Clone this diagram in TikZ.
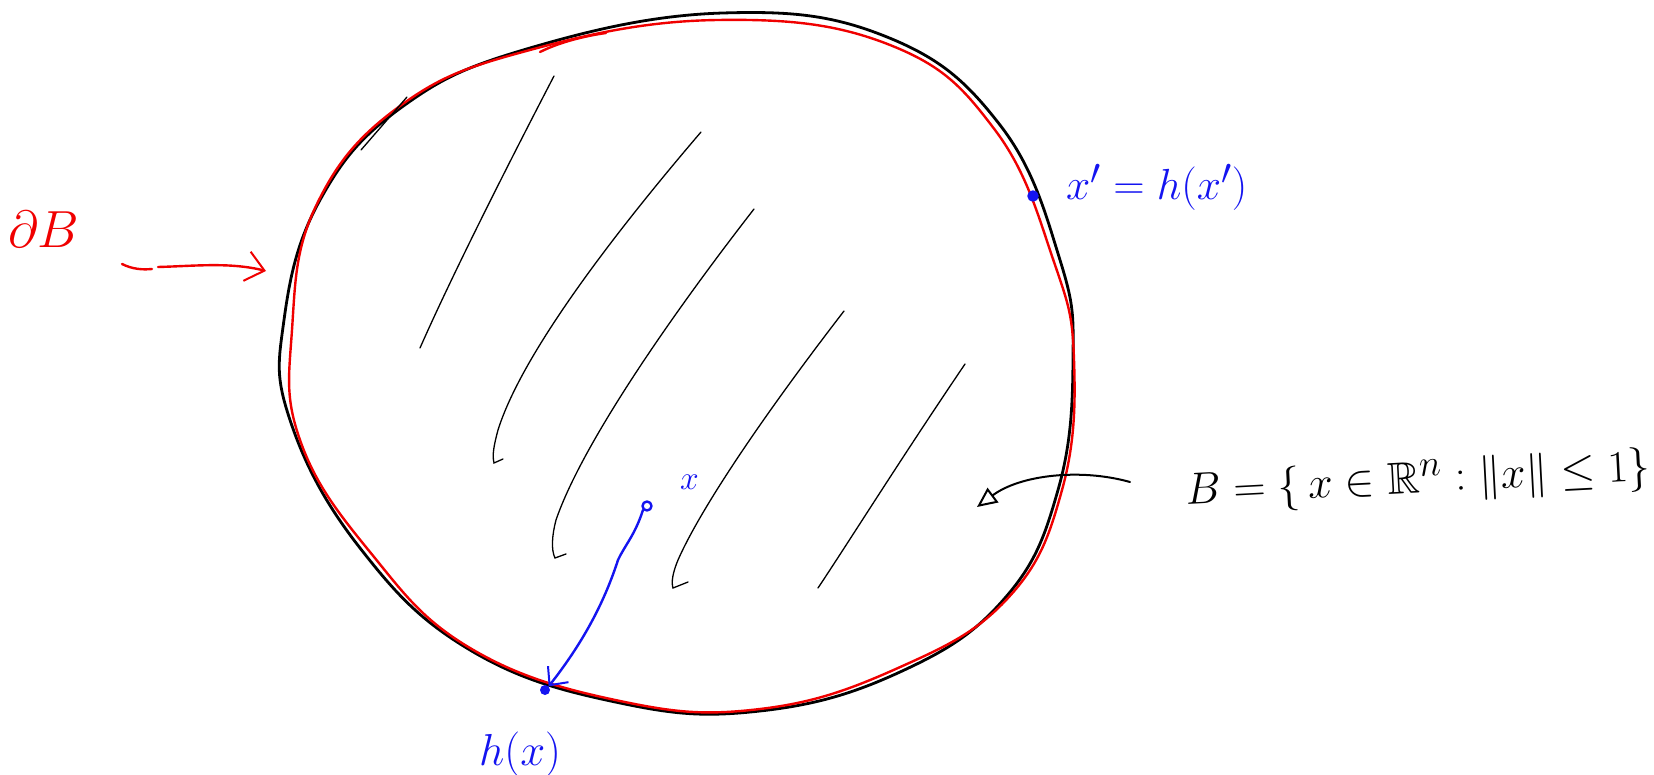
\documentclass[tikz,border=0pt]{standalone}
\usepackage{amssymb}
\usetikzlibrary{arrows.meta}
\definecolor{inkblue}{RGB}{20,20,240}
\definecolor{inkred}{RGB}{240,0,0}
\newcommand{\bigtxt}[2]{\scalebox{#1}{\Huge #2}}
\begin{document}
\begin{tikzpicture}[x=1pt,y=-1pt,
  ballline/.style={black,line width=2.8pt,line cap=round,line join=round},
  bndline/.style={inkred,line width=2.4pt,line cap=round,line join=round},
  hatch/.style={black,line width=1.3pt,line cap=round},
  bluepen/.style={inkblue,line width=2.4pt,line cap=round,line join=round},
  lbl/.style={inner sep=0pt}]
\useasboundingbox (0,0) rectangle (1654,775);
% ball B (black)
\draw[ballline] plot[smooth cycle,tension=0.7] coordinates {
 (723,13) (887,37) (1000,125) (1060,260) (1073,360) (1058,490) (1005,598)
 (900,672) (760,711) (620,703) (470,650) (360,548) (290,420) (284,320)
 (320,200) (402,107) (530,48)};
% boundary (red)
\draw[bndline] plot[smooth cycle,tension=0.7] coordinates {
 (718,20) (890,45) (995,130) (1054,262) (1074,360) (1062,490) (1008,598)
 (898,668) (760,709) (620,701) (470,648) (370,552) (300,440) (292,330)
 (316,206) (400,106) (530,50)};
\draw[bndline] (540,52) .. controls (560,42) and (585,36) .. (606,33);
% hatching
\draw[hatch] (407,97) -- (361,150);
\draw[hatch] (554,76) .. controls (500,180) and (450,280) .. (420,348);
\draw[hatch] (701,132) .. controls (600,250) and (520,360) .. (498,430) .. controls (494,445) and (492,455) .. (494,463) -- (503,459);
\draw[hatch] (754,209) .. controls (660,330) and (580,450) .. (556,520) .. controls (552,535) and (551,550) .. (555,558) -- (566,554);
\draw[hatch] (844,311) .. controls (760,420) and (700,510) .. (678,560) .. controls (673,572) and (671,582) .. (673,588) -- (688,582);
\draw[hatch] (965,364) .. controls (900,460) and (850,540) .. (818,588);
% labels
\node[lbl,text=inkred,anchor=base west] (dB) at (8,248) {\bigtxt{2.1}{$\partial B$}};
\draw[bndline] (122,264) .. controls (132,269) and (142,270) .. (152,269);
\coordinate (dBs) at (158,267);
\coordinate (dBe) at (266,271);
\draw[bndline,-{Straight Barb[length=18pt,width=30pt,line width=2pt]}] (dBs) .. controls (195,266) and (230,262) .. (dBe);
% x' = h(x')
\node[bluepen,fill=inkblue,draw,circle,inner sep=0pt,minimum size=9pt] (xp) at (1033,196) {};
\node[lbl,text=inkblue,anchor=base west] (xplbl) at (1066,200) {\bigtxt{1.75}{$x' = h(x')$}};
% B label
\node[lbl,anchor=base west,rotate=3] (Blbl) at (1186,505) {\bigtxt{1.8}{$B = \{\,x\in\mathbb{R}^n : \|x\|\leq 1\}$}};
\coordinate (Bs) at (1130,482);
\coordinate (Be) at (977,507);
\draw[black,line width=2pt,line cap=round,-{Triangle[open,length=20pt,width=18pt,line width=2pt]}] (Bs) .. controls (1080,468) and (1020,475) .. (Be);
% x and h(x)
\node[bluepen,fill=white,draw,circle,inner sep=0pt,minimum size=9pt] (x) at (647,506) {};
\node[lbl,text=inkblue,anchor=base west] (xlbl) at (680,489) {\bigtxt{1.35}{$x$}};
\node[inkblue,fill=inkblue,circle,inner sep=0pt,minimum size=10pt] (hx) at (545,690) {};
\node[lbl,text=inkblue,anchor=base west] (hxlbl) at (479,765) {\bigtxt{1.8}{$h(x)$}};
\draw[bluepen,-{Straight Barb[length=14pt,width=26pt,line width=2pt]}] (x.south west) .. controls (635,535) and (625,545) .. (618,560) .. controls (605,600) and (585,640) .. (hx.north east);
\end{tikzpicture}
\end{document}
